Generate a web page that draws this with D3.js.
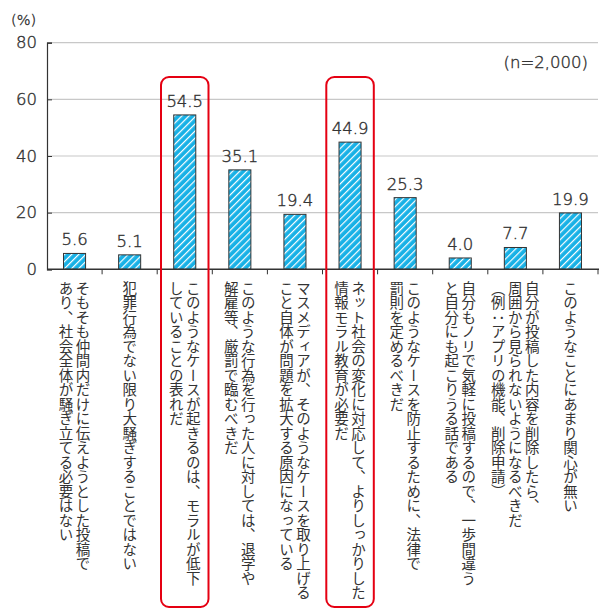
<!DOCTYPE html>
<html>
<head>
<meta charset="utf-8">
<script src="https://cdn.jsdelivr.net/npm/d3@7"></script>
<style>
  html, body { margin: 0; padding: 0; background: #fff; }
  svg { display: block; }
  .jp { font-family: "Noto Sans CJK JP", "Noto Sans", sans-serif; }
  .num { font-family: "DejaVu Sans", sans-serif; font-weight: 200; stroke: #333; stroke-width: 0.4px; }
</style>
</head>
<body>
<svg id="chart" width="605" height="612"></svg>
<script>
// Survey responses (n = 2,000), percent
const categories = [
  ["そもそも仲間内だけに伝えようとした投稿で", "あり、社会全体が騒ぎ立てる必要はない"],
  ["犯罪行為でない限り大騒ぎすることではない"],
  ["このようなケースが起きるのは、モラルが低下", "していることの表れだ"],
  ["このような行為を行った人に対しては、退学や", "解雇等、厳罰で臨むべきだ"],
  ["マスメディアが、そのようなケースを取り上げる", "こと自体が問題を拡大する原因になっている"],
  ["ネット社会の変化に対応して、よりしっかりした", "情報モラル教育が必要だ"],
  ["このようなケースを防止するために、法律で", "罰則を定めるべきだ"],
  ["自分もノリで気軽に投稿するので、一歩間違う", "と自分にも起こりうる話である"],
  ["自分が投稿した内容を削除したら、", "周囲から見られないようになるべきだ", "（例：アプリの機能、削除申請）"],
  ["このようなことにあまり関心が無い"]
];
const values = [5.6, 5.1, 54.5, 35.1, 19.4, 44.9, 25.3, 4.0, 7.7, 19.9];
const highlighted = [2, 5];
const yTicks = [0, 20, 40, 60, 80];
const unitLabel = "(%)";
const sampleLabel = "(n=2,000)";

const svg = d3.select("#chart");
const plotLeft = 47, plotRight = 598, plotTop = 42.7, plotBottom = 269.3;

const idx = d3.range(values.length);
const x = d3.scaleBand().domain(idx).range([plotLeft, plotRight]);
const y = d3.scaleLinear().domain([0, 80]).range([plotBottom, plotTop]);

// hatch pattern for bars
const defs = svg.append("defs");
const pat = defs.append("pattern")
  .attr("id", "hatch")
  .attr("patternUnits", "userSpaceOnUse")
  .attr("width", 5).attr("height", 5)
  .attr("patternTransform", "rotate(45)");
pat.append("rect").attr("width", 5).attr("height", 5).attr("fill", "#17b1e6");
pat.append("rect").attr("x", 0).attr("width", 1.2).attr("height", 5).attr("fill", "#ffffff");

// gridlines
svg.append("g")
  .selectAll("line")
  .data(yTicks.filter(d => d > 0))
  .join("line")
  .attr("x1", plotLeft).attr("x2", plotRight)
  .attr("y1", d => y(d)).attr("y2", d => y(d))
  .attr("stroke", "#c8c8c8").attr("stroke-width", 1.2);

// y axis
const yAxis = d3.axisLeft(y).tickValues(yTicks).tickSize(-5).tickPadding(10).tickFormat(d3.format("d"));
const gy = svg.append("g").attr("transform", `translate(${plotLeft},0)`).call(yAxis);
gy.select(".domain").attr("stroke", "#333").attr("stroke-width", 1.2);
gy.selectAll(".tick line").attr("stroke", "#333");
gy.selectAll(".tick text")
  .attr("class", "num")
  .attr("font-size", 16.5).attr("fill", "#333");

// bars
svg.append("g")
  .selectAll("rect")
  .data(idx)
  .join("rect")
  .attr("x", i => x(i) + x.bandwidth() * 0.3)
  .attr("width", x.bandwidth() * 0.4)
  .attr("y", i => y(values[i]))
  .attr("height", i => y(0) - y(values[i]))
  .attr("fill", "url(#hatch)")
  .attr("stroke", "#333").attr("stroke-width", 1);

// x axis baseline with ticks at band boundaries
svg.append("line")
  .attr("x1", plotLeft).attr("x2", plotRight + 1)
  .attr("y1", y(0)).attr("y2", y(0))
  .attr("stroke", "#333").attr("stroke-width", 1.5);
svg.append("g")
  .selectAll("line")
  .data(d3.range(1, values.length + 1))
  .join("line")
  .attr("x1", i => plotLeft + i * x.step()).attr("x2", i => plotLeft + i * x.step())
  .attr("y1", y(0)).attr("y2", y(0) + 5)
  .attr("stroke", "#333").attr("stroke-width", 1);

// value labels
svg.append("g")
  .selectAll("text")
  .data(idx)
  .join("text")
  .attr("class", "num")
  .attr("x", i => x(i) + x.bandwidth() / 2)
  .attr("y", i => y(values[i]) - 8)
  .attr("text-anchor", "middle")
  .attr("font-size", 16.5).attr("fill", "#333")
  .text(i => values[i].toFixed(1));

// vertical category labels
const colGap = 17;
const labelG = svg.append("g");
idx.forEach(i => {
  const lines = categories[i];
  const cx = x(i) + x.bandwidth() / 2;
  lines.forEach((ln, k) => {
    const offset = ((lines.length - 1) / 2 - k) * colGap;
    labelG.append("text")
      .attr("class", "jp")
      .attr("x", cx + offset)
      .attr("y", 281)
      .attr("font-size", 14.5)
      .attr("fill", "#333")
      .style("writing-mode", "vertical-rl")
      .style("text-orientation", "mixed")
      .text(ln);
  });
});

// highlight frames
svg.append("g")
  .selectAll("rect")
  .data(highlighted)
  .join("rect")
  .attr("x", i => x(i) + 3.8)
  .attr("width", x.bandwidth() - 7.6)
  .attr("y", 77)
  .attr("height", 530)
  .attr("rx", 8).attr("ry", 8)
  .attr("fill", "none")
  .attr("stroke", "#e50012").attr("stroke-width", 2);

// unit and sample size
svg.append("text").attr("class", "num")
  .attr("x", 11).attr("y", 25)
  .attr("font-size", 14.5).attr("fill", "#333")
  .text(unitLabel);
svg.append("text").attr("class", "num")
  .attr("x", 588).attr("y", 68)
  .attr("text-anchor", "end")
  .attr("font-size", 16.5).attr("fill", "#333")
  .text(sampleLabel);
</script>
</body>
</html>
